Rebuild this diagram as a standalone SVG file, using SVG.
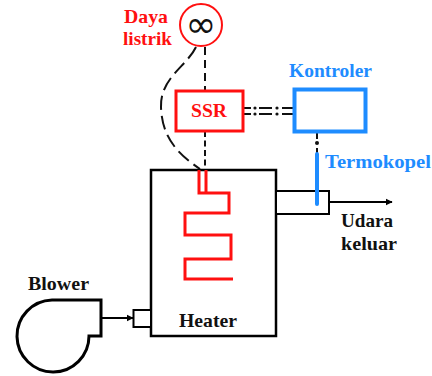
<svg xmlns="http://www.w3.org/2000/svg" width="432" height="376" viewBox="0 0 432 376">
<style>
text{font-family:"Liberation Serif","DejaVu Serif",serif;font-weight:bold;font-size:19px}
.r{fill:#ff1010}.b{fill:#1e8cff}.k{fill:#111}
.bl{fill:none;stroke:#000;stroke-width:2}
.dd{fill:none;stroke:#111;stroke-width:2}
</style>
<defs>
<marker id="ah" viewBox="0 0 10 10" refX="9" refY="5" markerWidth="7" markerHeight="8" markerUnits="userSpaceOnUse" orient="auto"><path d="M0,0L10,5L0,10z" fill="#000"/></marker>
</defs>
<rect width="432" height="376" fill="#fff"/>
<g id="connectors">
<path class="dd" stroke-dasharray="8 5" d="M205,47V91"/>
<path class="dd" stroke-dasharray="6 3.500" d="M205,131V170"/>
<path class="dd" stroke-dasharray="14 6" d="M196,47C187,66 160,78 161,107C162,138 178,154 200,169"/>
<path class="dd" d="M243,108H251M243,114H251M259,108H272M259,114H272M282,108H294M282,114H294"/>
<g fill="#111"><circle cx="255" cy="108" r="1.600"/><circle cx="255" cy="114" r="1.600"/><circle cx="277" cy="108" r="1.600"/><circle cx="277" cy="114" r="1.600"/></g>
<path class="dd" d="M317,132V139M317,148V154"/>
<circle cx="317" cy="143" r="2" fill="#111"/>
<path class="bl" d="M329,202H392" marker-end="url(#ah)"/>
<path class="bl" d="M101,318H133" marker-end="url(#ah)"/>
</g>
<g id="daya-listrik">
<circle cx="201" cy="25" r="21" fill="#fff" stroke="#ff1010" stroke-width="2"/>
<text x="201" y="37" text-anchor="middle" style="font-family:'DejaVu Sans',sans-serif;font-weight:normal;font-size:37px" fill="#111">∞</text>
<text class="r" x="124" y="23" textLength="44" lengthAdjust="spacingAndGlyphs">Daya</text>
<text class="r" x="123" y="45" textLength="49" lengthAdjust="spacingAndGlyphs">listrik</text>
</g>
<g id="ssr">
<rect x="176" y="91" width="67" height="40" fill="#fff" stroke="#ff1010" stroke-width="3"/>
<text class="r" x="191" y="117" textLength="36" lengthAdjust="spacingAndGlyphs">SSR</text>
</g>
<g id="kontroler">
<rect x="294.500" y="89.500" width="71" height="42" fill="#fff" stroke="#1e8cff" stroke-width="4"/>
<text class="b" x="289" y="77" textLength="83" lengthAdjust="spacingAndGlyphs">Kontroler</text>
</g>
<g id="heater">
<rect x="151" y="170" width="125" height="166" fill="#fff" stroke="#000" stroke-width="2.500"/>
<path d="M199,170V193H229V213H185V235H231V259H185V279H233M206,170V193" fill="none" stroke="#ff1010" stroke-width="3"/>
<text class="k" x="179" y="327" textLength="58" lengthAdjust="spacingAndGlyphs">Heater</text>
</g>
<g id="outlet">
<rect x="276" y="191" width="53" height="23" fill="#fff" stroke="#000" stroke-width="2"/>
</g>
<g id="termokopel">
<path d="M317,154V204" stroke="#1e8cff" stroke-width="4" stroke-linecap="round" fill="none"/>
<text class="b" x="325" y="168" textLength="106" lengthAdjust="spacingAndGlyphs">Termokopel</text>
</g>
<g id="udara"><text class="k" x="341" y="227" textLength="52" lengthAdjust="spacingAndGlyphs">Udara</text><text class="k" x="341" y="250" textLength="56" lengthAdjust="spacingAndGlyphs">keluar</text></g>
<g id="inlet"><rect x="133.500" y="310" width="17.500" height="17" fill="#fff" stroke="#000" stroke-width="2"/></g>
<g id="blower">
<path d="M101,300H52A36,36 0 1 0 89,336H101Z" fill="#fff" stroke="#000" stroke-width="3"/>
<text class="k" x="28" y="290" textLength="61" lengthAdjust="spacingAndGlyphs">Blower</text>
</g>
</svg>
